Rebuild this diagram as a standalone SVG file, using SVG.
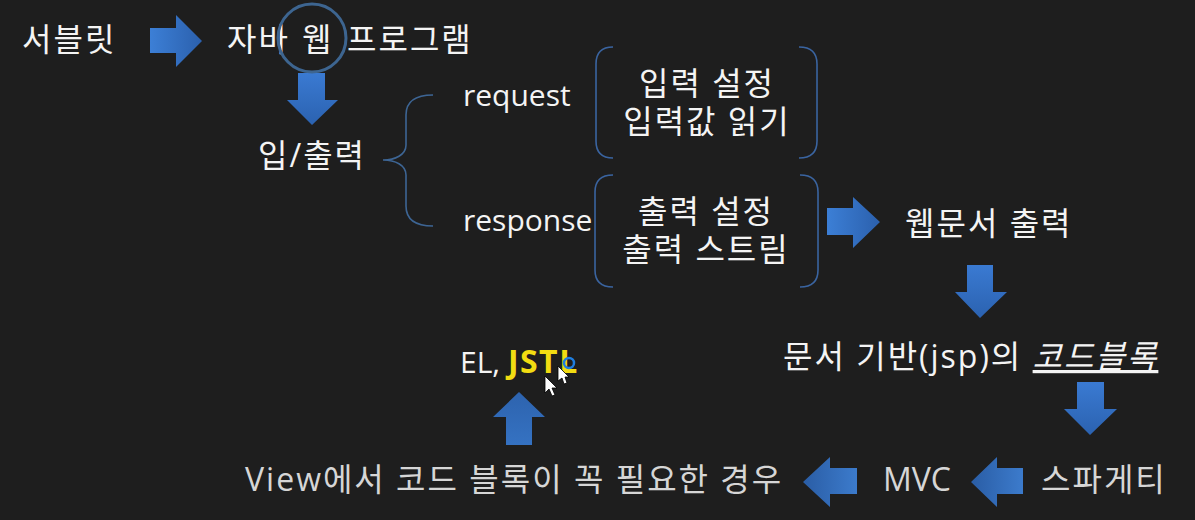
<svg xmlns="http://www.w3.org/2000/svg" width="1195" height="520" viewBox="0 0 1195 520">
<defs>
<linearGradient id="gR" x1="0" y1="0" x2="1" y2="0"><stop offset="0" stop-color="#3c7fd6"/><stop offset="1" stop-color="#2b60ad"/></linearGradient>
<linearGradient id="gL" x1="1" y1="0" x2="0" y2="0"><stop offset="0" stop-color="#3c7bcc"/><stop offset="1" stop-color="#2a5da5"/></linearGradient>
<linearGradient id="gD" x1="0" y1="0" x2="0" y2="1"><stop offset="0" stop-color="#3a7ad2"/><stop offset="1" stop-color="#2b62b0"/></linearGradient>
<linearGradient id="gU" x1="0" y1="1" x2="0" y2="0"><stop offset="0" stop-color="#3572c2"/><stop offset="1" stop-color="#2d63ae"/></linearGradient>
<style>
.t{font-family:"Open Sans","Noto Sans CJK KR",sans-serif;font-size:32px;letter-spacing:2px;fill:#f4f4f4}
.l{font-size:30px;letter-spacing:0}
.g{fill:#d6d6d6}
.bl{fill:none;stroke:#3a64a0;stroke-width:1.6}
.br{fill:none;stroke:#3d6594;stroke-width:1.6}
</style>
</defs>
<rect width="1195" height="520" fill="#1e1e1e"/>

<g id="connectors">
<polygon points="150,28 176,28 176,15 202,41 176,67 176,53 150,53" fill="url(#gR)"/>
<polygon points="298,73 325,73 325,100 338,100 312,125 287,100 298,100" fill="url(#gD)"/>
<path class="br" d="M433,95 C415,95 406,102 406,115 L406,145 C406,155 395,160 383,160 C395,160 406,165 406,175 L406,206 C406,219 415,226 433,226"/>
<polygon points="827,208 853,208 853,197 880,222 853,248 853,235 827,235" fill="url(#gR)"/>
<polygon points="967,265 993,265 993,292 1007,292 980,318 955,292 967,292" fill="url(#gD)"/>
<polygon points="1077,382 1104,382 1104,409 1117,409 1090,435 1064,409 1077,409" fill="url(#gD)"/>
<polygon points="519,392 545,417 532,417 532,445 506,445 506,417 493,417" fill="url(#gU)"/>
<polygon points="803,482 830,457 830,468 857,468 857,494 830,494 830,507" fill="url(#gL)"/>
<polygon points="971,482 997,457 997,468 1023,468 1023,494 997,494 997,507" fill="url(#gL)"/>
</g>

<g id="n-servlet"><text class="t" x="22" y="51">서블릿</text></g>
<g id="n-javaweb"><text class="t" y="51"><tspan x="227">자바</tspan><tspan x="302">웹</tspan><tspan x="347">프로그램</tspan></text>
<circle cx="312" cy="38" r="34" fill="none" stroke="#3d6590" stroke-width="3"/></g>
<g id="n-io"><text class="t" x="258" y="167">입/출력</text></g>
<g id="n-request"><text class="t l" x="463" y="106">request</text></g>
<g id="n-response"><text class="t l" x="463" y="231">response</text></g>
<g id="n-box1">
<path class="bl" d="M613,47 Q596,47 596,64 L596,141 Q596,158 613,158"/>
<path class="bl" d="M799,47 Q817,47 817,64 L817,141 Q817,158 799,158"/>
<text class="t" x="707" y="95" text-anchor="middle">입력 설정</text>
<text class="t" x="707" y="133" text-anchor="middle">입력값 읽기</text>
</g>
<g id="n-box2">
<path class="bl" d="M613,175 Q595,175 595,192 L595,270 Q595,287 613,287"/>
<path class="bl" d="M800,175 Q818,175 818,192 L818,270 Q818,287 800,287"/>
<text class="t" x="706" y="223" text-anchor="middle">출력 설정</text>
<text class="t" x="706" y="261" text-anchor="middle">출력 스트림</text>
</g>
<g id="n-webdoc"><text class="t" x="905" y="235">웹문서 출력</text></g>
<g id="n-jsp"><text class="t" x="783" y="368">문서 기반(jsp)의 <tspan font-style="italic" text-decoration="underline">코드블록</tspan></text></g>
<g id="n-jstl"><text class="t l" x="460" y="373">EL, <tspan font-weight="bold" fill="#f2dc12" style="font-size:32px;letter-spacing:1.5px">JSTL</tspan></text>
<circle cx="569" cy="363" r="5" fill="none" stroke="#1f7ee0" stroke-width="2.5"/>
<path d="M545,376 L545,393 L549,389 L552,396 L555,395 L552,388 L557,388 Z" fill="#ffffff" stroke="#000000" stroke-width="0.8"/>
<path d="M558,366 L558,381 L562,378 L564,384 L567,383 L565,377 L569,377 Z" fill="#ffffff" stroke="#000000" stroke-width="0.8"/>
</g>
<g id="n-view"><text class="t g" x="245" y="491">View에서 코드 블록이 꼭 필요한 경우</text></g>
<g id="n-mvc"><text class="t g l" x="883" y="491" style="font-size:32px">MVC</text></g>
<g id="n-spaghetti"><text class="t g" x="1041" y="491">스파게티</text></g>
</svg>
